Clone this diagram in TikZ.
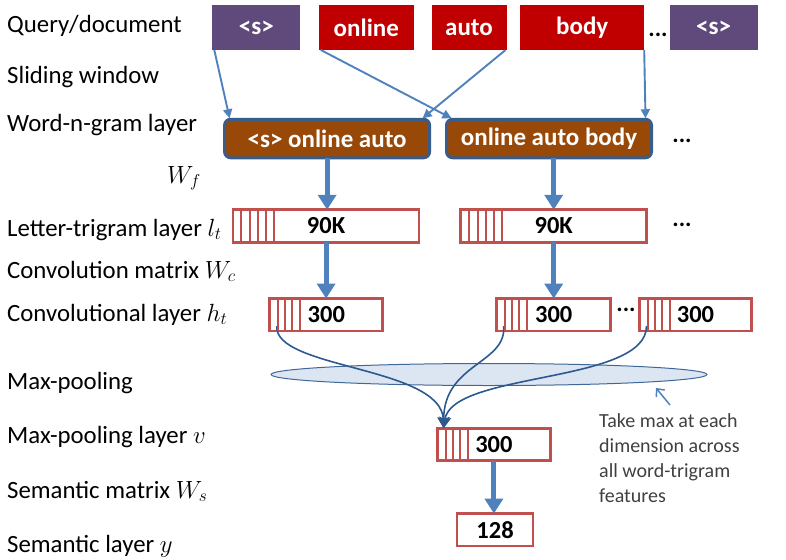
\documentclass[tikz,border=0pt]{standalone}
\usepackage{fontspec}
\setmainfont{Carlito}
\usepackage{tikz}
\usetikzlibrary{arrows.meta,calc,shapes.geometric}
\definecolor{wordpurple}{HTML}{604A7B}
\definecolor{wordred}{HTML}{C00000}
\definecolor{ngrambrown}{HTML}{984807}
\definecolor{ngramedge}{HTML}{385D8A}
\definecolor{vecred}{HTML}{C0504D}
\definecolor{arrowblue}{HTML}{4F81BD}
\definecolor{curveblue}{HTML}{2C5A8E}
\definecolor{poolfill}{HTML}{DCE6F2}
\definecolor{notegray}{HTML}{404040}
\tikzset{
  wordbox/.style={rectangle, inner sep=0, outer sep=0, minimum height=45, text=white, font=\fontsize{25}{29}\selectfont\bfseries},
  ngram/.style={rectangle, rounded corners=6, draw=ngramedge, line width=3, fill=ngrambrown, inner sep=0, outer sep=0, minimum height=38.5, minimum width=205, text=white, font=\fontsize{25}{29}\selectfont\bfseries},
  vecbox/.style={rectangle, draw=vecred, line width=2.7, fill=white, inner sep=0, outer sep=0, minimum height=32.5, font=\fontsize{24.5}{28}\selectfont\bfseries},
  stripe/.style={draw=vecred, line width=2},
  layerlabel/.style={anchor=base west, inner sep=0, font=\fontsize{24.8}{28}\selectfont},
  moredots/.style={anchor=base, inner sep=0, font=\fontsize{24}{28}\selectfont\bfseries},
  thinarrow/.style={draw=arrowblue, line width=1.9, -{Triangle[width=9pt,length=9pt]}},
  fatarrow/.style={draw=arrowblue, line width=5, -{Triangle[width=18pt,length=15pt]}},
  poolcurve/.style={draw=curveblue, line width=1.6, -{Stealth[width=12pt,length=11pt,inset=2pt]}}
}
\begin{document}
\begin{tikzpicture}[x=1pt, y=-1pt]
  \useasboundingbox (0,0) rectangle (786,559);
  % layer names on the left
  \node[layerlabel] (lq) at (7,33) {Query/document};
  \node[layerlabel] (ls) at (7,84) {Sliding window};
  \node[layerlabel] (lw) at (7,131) {Word-n-gram layer};
  \node[layerlabel] (lf) at (167,183) {$W_f$};
  \node[layerlabel] (ll) at (7,236) {Letter-trigram layer $l_t$};
  \node[layerlabel] (lc) at (7,278) {Convolution matrix $W_c$};
  \node[layerlabel] (lh) at (7,321) {Convolutional layer $h_t$};
  \node[layerlabel] (lm) at (7,389) {Max-pooling};
  \node[layerlabel] (lv) at (7,443) {Max-pooling layer $v$};
  \node[layerlabel] (lsm) at (7,498) {Semantic matrix $W_s$};
  \node[layerlabel] (ly) at (7,552) {Semantic layer $y$};

  % words of the query
  \node[wordbox, fill=wordpurple, minimum width=88] (s1) at (256.3,27.5) {<s>};
  \node[wordbox, fill=wordred, minimum width=95] (online) at (366.3,27.5) {online};
  \node[wordbox, fill=wordred, minimum width=75] (auto) at (469,27.5) {auto};
  \node[wordbox, fill=wordred, minimum width=124] (body) at (582.2,27.5) {body};
  \node[moredots] (d1) at (658,37) {...};
  \node[wordbox, fill=wordpurple, minimum width=88] (s2) at (713.6,27.5) {<s>};

  % word-n-grams
  \node[ngram] (g1) at (327.1,138.5) {<s> online auto};
  \node[ngram] (g2) at (549,138.5) {online auto body};
  \node[moredots] (d2) at (682,142) {...};
  \draw[thinarrow] (s1.south west) ++(2,0) -- ($(g1.north west)+(5,-1)$);
  \draw[thinarrow] (online.south west) ++(2,0) -- ($(g2.north west)+(5,-1)$);
  \draw[thinarrow] (auto.south east) ++(-1,0) -- ($(g1.north east)+(-7,-1)$);
  \draw[thinarrow] (body.south east) ++(0,0) -- ($(g2.north east)+(-6,-1)$);

  % letter-trigram vectors
  \node[vecbox, minimum width=186] (l1) at (326.1,226) {90K};
  \node[vecbox, minimum width=186] (l2) at (553.7,226) {90K};
  \node[moredots] (d3) at (682,226) {...};
  \draw[fatarrow] (g1.south) -- (g1.south |- l1.north);
  \draw[fatarrow] (g2.south -| l2.north) -- (l2.north);

  % convolutional vectors
  \node[vecbox, minimum width=113] (c1) at (326.3,314.8) {300};
  \node[vecbox, minimum width=114] (c2) at (553.7,314.8) {300};
  \node[moredots] (d4) at (626,311) {...};
  \node[vecbox, minimum width=112] (c3) at (695.5,314.8) {300};
  \draw[fatarrow] (l1.south) -- (l1.south |- c1.north);
  \draw[fatarrow] (l2.south) -- (l2.south |- c2.north);

  % max-pooling
  \node[ellipse, draw=arrowblue!80!black, line width=1, fill=poolfill, minimum width=436, minimum height=22] (mp) at (489,374.5) {};
  \node[vecbox, minimum width=112.5] (p) at (493.9,444.5) {300};
  \coordinate (c1out) at ($(c1.south west)+(7,-5)$);
  \coordinate (c2out) at ($(c2.south west)+(7,-5)$);
  \coordinate (c3out) at ($(c3.south west)+(7,-5)$);
  \coordinate (pin) at ($(p.north west)+(6,0)$);
  \draw[poolcurve] (c1out) .. controls +(-3,43) and +(-2,-62) .. (pin);
  \draw[poolcurve] (c2out) .. controls +(3,38) and +(0,-65) .. (pin);
  \draw[poolcurve] (c3out) .. controls +(0,58) and +(8,-57) .. (pin);

  % semantic layer
  \node[vecbox, minimum width=76] (sem) at (495.1,529.8) {128};
  \draw[fatarrow] (p.south) -- (p.south |- sem.north);

  % stripes at the left end of each vector
  \foreach \n in {l1,l2}
    \foreach \d in {8,17,25,33,41}
      \draw[stripe] ($(\n.north west)+(\d,0)$) -- ($(\n.south west)+(\d,0)$);
  \foreach \n in {c1,c2,c3,p}
    \foreach \d in {8,15,22,30}
      \draw[stripe] ($(\n.north west)+(\d,0)$) -- ($(\n.south west)+(\d,0)$);

  % note on max-pooling
  \node[anchor=north west, inner sep=0, align=left, text=notegray, font=\fontsize{20}{25}\selectfont] (note) at (599,413) {Take max at each\\dimension across\\all word-trigram\\features};
  \coordinate (notetail) at (670,405);
  \coordinate (notetip) at (656,388);
  \draw[draw=arrowblue, line width=1.5, -{Straight Barb[length=6pt,width=11pt]}] (notetail) -- (notetip);
\end{tikzpicture}
\end{document}
